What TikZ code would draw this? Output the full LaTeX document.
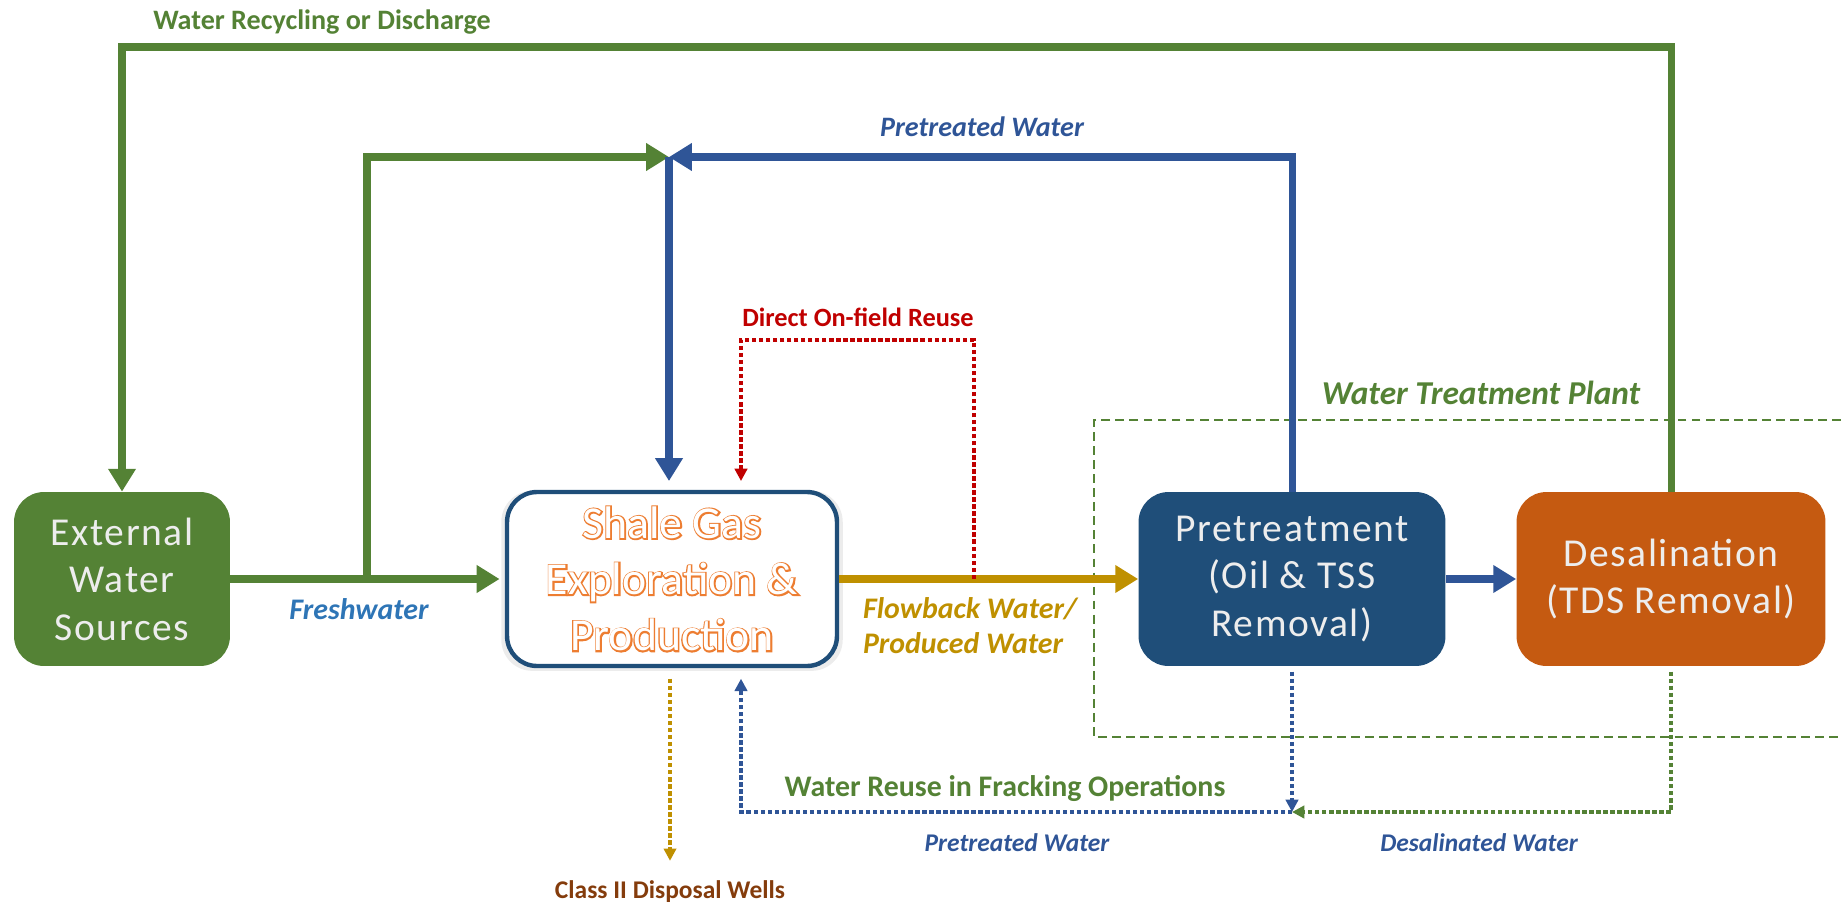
\documentclass[tikz,border=0pt]{standalone}
\usepackage{fontspec}
\setmainfont{Carlito}
\newfontfamily\spacedfont[LetterSpace=4]{Carlito}
\newfontfamily\heavyfont[FakeBold=6]{Carlito}
\usepackage{tikz}
\usetikzlibrary{arrows.meta,positioning,calc,shadows}

\definecolor{grn}{HTML}{548235}
\definecolor{blu}{HTML}{2F5597}
\definecolor{navy}{HTML}{1F4E79}
\definecolor{rust}{HTML}{C55A11}
\definecolor{gold}{HTML}{BF9000}
\definecolor{crimson}{HTML}{C00000}
\definecolor{brwn}{HTML}{843C0C}
\definecolor{skyblu}{HTML}{2E75B6}
\definecolor{peach}{HTML}{ED7D31}
\definecolor{boxtxt}{HTML}{EDEDED}

\newcommand\outl[1]{\makebox[0pt][l]{\heavyfont\color{peach}#1}\textcolor{white}{#1}}

\begin{document}
\begin{tikzpicture}[
  x=0.02cm, y=-0.02cm,
  unit/.style={rounded corners=0.6cm, minimum height=3.48cm, align=center,
               text=boxtxt, font=\spacedfont\fontsize{22.5}{27}\selectfont},
  well/.style={draw=navy, line width=2.5pt, fill=white, rounded corners=0.6cm,
               minimum width=6.6cm, minimum height=3.48cm, align=center,
               font=\fontsize{26}{32}\selectfont,
               drop shadow={opacity=.15, shadow xshift=0pt, shadow yshift=-1pt, shadow scale=1.035}},
  flow/.style={line width=4pt, -{Triangle[length=13pt,width=15pt]}},
  dotflow/.style={line width=2pt, dash pattern=on 2.5pt off 1.5pt, -{Triangle[length=7pt,width=7pt]}},
  lbl/.style={font=\bfseries\fontsize{16}{19}\selectfont},
  ilbl/.style={font=\bfseries\itshape\fontsize{16}{19}\selectfont}
]
\useasboundingbox (0,0) rectangle (1841,909);

% ---------- Boxes ----------
\node[unit, fill=grn, minimum width=4.32cm] (ext) at (122,579) {External\\Water\\Sources};
\node[well] (shale) at (672,579) {\outl{Shale Gas}\\\outl{Exploration \&}\\\outl{Production}};
\node[unit, fill=navy, minimum width=6.14cm] (pre) at (1292,579) {Pretreatment\\(Oil \& TSS\\Removal)};
\node[unit, fill=rust, minimum width=6.18cm] (desal) at (1671,579) {Desalination\\(TDS Removal)};

% ---------- Water treatment plant frame ----------
\coordinate (wtp1) at (1841,420);
\coordinate (wtp2) at (1094,737);
\draw[grn, line width=1.2pt, dash pattern=on 5pt off 3pt] (wtp1) -| (wtp2) -- (wtp2 -| wtp1);
\node[ilbl, grn, font=\bfseries\itshape\fontsize{19}{22}\selectfont] (wtp) at (1481,393) {Water Treatment Plant};

% ---------- Helper points ----------
\coordinate (fork) at (367,579);
\coordinate (junc) at (669,157);
\coordinate (toprow) at (0,47);
\coordinate (tap) at (974,579);
\coordinate (redtop) at (741,340);
\coordinate (mid) at (1292,812);

% ---------- Solid flows ----------
\draw[flow, grn] (desal.north) |- (ext.north |- toprow) -- (ext.north);
\draw[flow, grn, shorten >=3pt] (ext) -- (shale);
\draw[flow, grn] (fork) |- (junc);
\draw[flow, blu] (pre.north) |- (junc);
\draw[flow, blu, shorten >=5pt] (junc) -- (junc |- shale.north);
\draw[flow, gold, line width=4.5pt] (shale) -- (pre);
\draw[flow, blu, line width=4.5pt] (pre) -- (desal);

% ---------- Dotted flows ----------
\draw[dotflow, crimson, shorten >=5pt] (tap) |- (redtop) -- (redtop |- shale.north);
\node[lbl, brwn, font=\bfseries\fontsize{14.5}{17}\selectfont] (wells) at (670,892) {Class II Disposal Wells};
\draw[dotflow, gold, shorten <=6pt, shorten >=8pt] (shale.south -| wells) -- (wells.north);
\draw[dotflow, blu, shorten <=3pt] (pre.south) -- (mid);
\draw[dotflow, grn, shorten <=3pt] (desal.south) |- (mid);
\draw[dotflow, blu, shorten >=6pt] (mid) -| (shale.south -| redtop);

% ---------- Labels ----------
\node[lbl, grn] (recyc) at (322,22) {Water Recycling or Discharge};
\node[ilbl, blu] (ptop) at (982,127) {Pretreated Water};
\node[lbl, crimson, font=\bfseries\fontsize{15}{18}\selectfont] (direct) at (858,317) {Direct On-field Reuse};
\node[ilbl, skyblu, font=\bfseries\itshape\fontsize{17}{20}\selectfont] (fresh) at (359,609) {Freshwater};
\node[ilbl, gold, align=left, font=\bfseries\itshape\fontsize{17}{20}\selectfont] (flowb) at (970,626) {Flowback Water/\\Produced Water};
\node[lbl, grn, font=\bfseries\fontsize{17}{20}\selectfont] (reuse) at (1005,789) {Water Reuse in Fracking Operations};
\node[ilbl, blu, font=\bfseries\itshape\fontsize{14.5}{17}\selectfont] (pbot) at (1017,843) {Pretreated Water};
\node[ilbl, blu, font=\bfseries\itshape\fontsize{14.5}{17}\selectfont] (desw) at (1479,843) {Desalinated Water};

\end{tikzpicture}
\end{document}
